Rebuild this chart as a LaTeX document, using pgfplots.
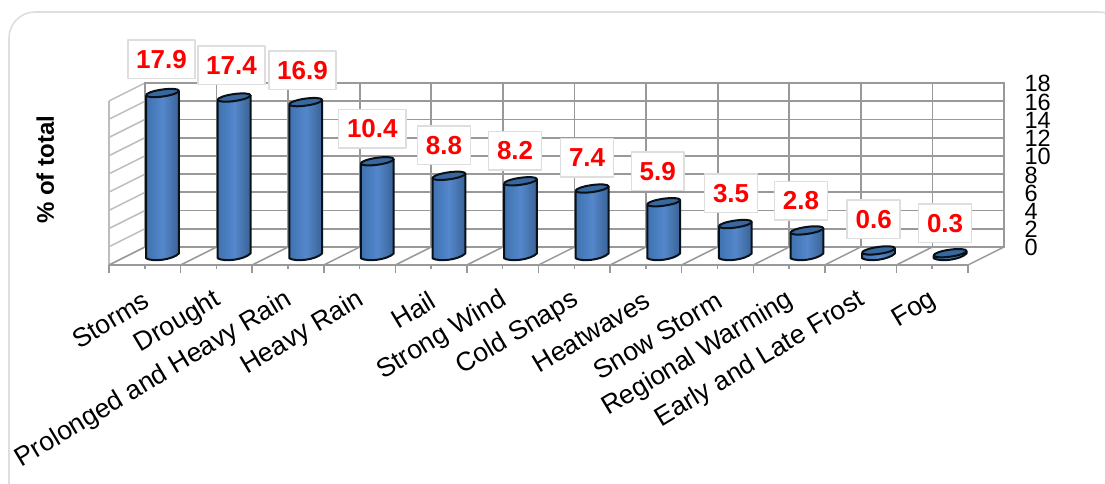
\documentclass[border=0pt]{standalone}
\usepackage{pgfplots}
\pgfplotsset{compat=1.18}
\usepackage{pgfplotstable}
\usepackage{fontspec}
\setmainfont{Liberation Sans}

\definecolor{wallgrid}{HTML}{999999}
\definecolor{sidegrid}{HTML}{BDBDBD}
\definecolor{framegrey}{HTML}{DEDEDE}
\definecolor{cylleft}{HTML}{3F72B0}
\definecolor{cylmid}{HTML}{5487CB}
\definecolor{cylright}{HTML}{3A6396}
\definecolor{cyltop}{HTML}{38689E}

% body of a cylinder, dark at both edges
\pgfdeclarehorizontalshading{cylbody}{100bp}{%
  color(0bp)=(cylleft); color(25bp)=(cylleft);
  color(50bp)=(cylmid);
  color(75bp)=(cylright); color(100bp)=(cylright)}

% a cylinder whose top sits on the data point and whose foot is at zero
\pgfdeclareplotmark{cylinder}{%
  \pgfmathsetlengthmacro\hh{\rawy*9.1pt}%
  \pgfsetlinewidth{2pt}%
  \pgfsetroundjoin
  \pgfsetstrokecolor{black!85!cyltop}%
  \pgfscope
    \pgfpathmoveto{\pgfpoint{-16.4pt}{-2.4pt}}%
    \pgfpathlineto{\pgfpoint{-16.4pt}{-\hh-2.4pt}}%
    \pgfpathcurveto{\pgfpoint{-10pt}{-\hh-6.2pt}}{\pgfpoint{10pt}{-\hh-4pt}}{\pgfpoint{16.4pt}{-\hh+2.4pt}}%
    \pgfpathlineto{\pgfpoint{16.4pt}{2.4pt}}%
    \pgfpathcurveto{\pgfpoint{10pt}{-3pt}}{\pgfpoint{-10pt}{-5.2pt}}{\pgfpoint{-16.4pt}{-2.4pt}}%
    \pgfpathclose
    \pgfshadepath{cylbody}{0}%
    \pgfusepath{discard}%
  \endpgfscope
  \pgfpathmoveto{\pgfpoint{-16.4pt}{-2.4pt}}%
  \pgfpathlineto{\pgfpoint{-16.4pt}{-\hh-2.4pt}}%
  \pgfpathcurveto{\pgfpoint{-10pt}{-\hh-6.2pt}}{\pgfpoint{10pt}{-\hh-4pt}}{\pgfpoint{16.4pt}{-\hh+2.4pt}}%
  \pgfpathlineto{\pgfpoint{16.4pt}{2.4pt}}%
  \pgfusepath{stroke}%
  \pgfscope
    \pgfsetfillcolor{cyltop}%
    \pgftransformrotate{8}%
    \pgfpathellipse{\pgfpointorigin}{\pgfpoint{16.6pt}{0pt}}{\pgfpoint{0pt}{3.5pt}}%
    \pgfusepath{fill,stroke}%
  \endpgfscope
}

% share of total per category; dx and dy place the value box from the top of the cylinder
\pgfplotstableread{
x  y     dx    dy
0  17.9  -1.0  33.6
1  17.4  -2.6  32.2
2  16.9  -3.2  31.7
3  10.4  -5.0  32.4
4  8.8   -5.0  30.7
5  8.2   -5.4  30.4
6  7.4   -5.0  30.7
7  5.9   -5.9  30.8
8  3.5   -4.2  30.7
9  2.8   -6.0  29.5
10 0.6   -4.8  31.0
11 0.3   -5.0  29.8
}\hazardshare

\begin{document}
\begin{tikzpicture}[x=1pt,y=1pt]
\useasboundingbox (0,0) rectangle (1105,483);

% rounded card behind the chart
\begin{scope}
  \clip (0,0) rectangle (1105,483);
  \draw[framegrey,line width=1.6pt,rounded corners=26pt] (9,-30) rectangle (1125,471);
\end{scope}

% left wall and floor of the box
\foreach \k in {0,...,9}{
  \draw[sidegrid,line width=1.5pt] (109,{218+\k*18.22}) -- (145,{236+\k*18.22});
}
\draw[sidegrid,line width=1.5pt] (109,218) -- (109,382);
\foreach \k in {0,...,12}{
  \draw[wallgrid,line width=1.5pt] ({109+\k*71.58},218) -- ({145+\k*71.58},236);
}

% back wall: grid and the value scale
\begin{axis}[
  at={(145pt,236pt)}, anchor=south west,
  scale only axis, width=859pt, height=164pt,
  xmin=0, xmax=12, ymin=0, ymax=18,
  xtick={0,...,12}, xticklabels={},
  ytick={0,2,...,18},
  xmajorgrids, ymajorgrids,
  grid style={wallgrid,line width=1.7pt},
  axis line style={wallgrid,line width=1.7pt},
  major tick length=0pt,
  yticklabel pos=right,
  /pgf/number format/assume math mode=true,
  yticklabel style={anchor=west,font=\fontsize{23.5}{23.5}\selectfont,xshift=17pt,yshift=-0.8pt},
  ylabel={\bfseries\% of total},
  every axis y label/.style={at={(axis description cs:-0.116,0.47)},rotate=90,anchor=center,font=\fontsize{24}{24}\selectfont},
]
\end{axis}

% front edge of the floor, with the category names
\begin{axis}[
  at={(109pt,218pt)}, anchor=south west,
  scale only axis, width=859pt, height=164pt,
  xmin=0, xmax=12, ymin=0, ymax=18,
  axis x line=bottom, axis y line=none,
  axis line style={wallgrid,line width=1.7pt,-},
  xtick={0.5,1.5,...,11.5},
  minor xtick={0,...,12},
  xticklabels={Storms,Drought,Prolonged and Heavy Rain,Heavy Rain,Hail,Strong Wind,Cold Snaps,Heatwaves,Snow Storm,Regional Warming,Early and Late Frost,Fog},
  tick style={wallgrid,line width=1.5pt},
  major tick length=4pt, minor tick length=8pt,
  tick align=outside,
  xticklabel style={rotate=31,anchor=east,font=\fontsize{26.5}{26.5}\selectfont,xshift=-10pt,yshift=-26pt},
]
\end{axis}

% cylinders stand mid-way through the depth of the box
\begin{axis}[
  at={(109pt,218pt)}, anchor=south west,
  scale only axis, width=895pt, height=182pt,
  xmin=-0.7472, xmax=11.7528, ymin=-1, ymax=19,
  axis lines=none, clip=false,
]
\addplot[
  scatter, only marks, mark=cylinder,
  point meta=y,
  visualization depends on={y \as \rawy},
  visualization depends on={\thisrow{dx} \as \labdx},
  visualization depends on={\thisrow{dy} \as \labdy},
  nodes near coords,
  /pgf/number format/fixed,
  /pgf/number format/fixed zerofill,
  /pgf/number format/precision=1,
  /pgf/number format/assume math mode=true,
  every node near coord/.append style={
    draw=framegrey, fill=white, line width=1.6pt,
    text=red, font=\fontsize{26}{26}\selectfont\bfseries,
    anchor=center, inner xsep=8.4pt, inner ysep=0pt, minimum height=38.5pt,
    xshift={\labdx*1pt},
    yshift={\labdy*1pt},
  },
] table[x=x,y=y] {\hazardshare};
\end{axis}
\end{tikzpicture}
\end{document}
